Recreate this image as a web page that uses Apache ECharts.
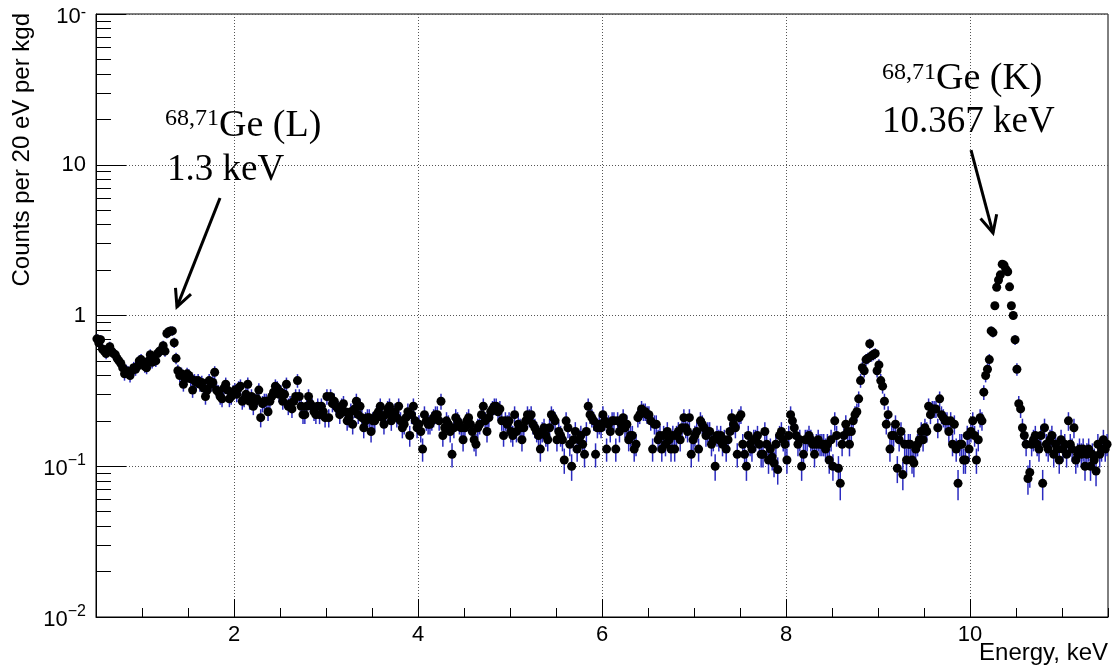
<!DOCTYPE html>
<html>
<head>
<meta charset="utf-8">
<title>Ge spectrum</title>
<script src="https://cdn.jsdelivr.net/npm/echarts@6/dist/echarts.min.js"></script>
<style>
  html, body { margin: 0; padding: 0; background: #fff; }
  #chart { width: 1112px; height: 671px; }
</style>
</head>
<body>
<div id="chart"></div>
<script>
// Histogram binning: 20 eV bins starting at 0.5 keV
const BIN_START_KEV = 0.5;
const BIN_WIDTH_KEV = 0.02;

// Counts per 20 eV per kgd, 0.50 - 3.00 keV
const countsLow = [
  0.70, 0.66, 0.69, 0.60, 0.58, 0.56, 0.60, 0.62, 0.58, 0.56,
  0.55, 0.52, 0.50, 0.48, 0.45, 0.41, 0.43, 0.42, 0.40, 0.43,
  0.45, 0.44, 0.46, 0.50, 0.51, 0.48, 0.46, 0.45, 0.50, 0.55,
  0.49, 0.51, 0.50, 0.56, 0.58, 0.59, 0.63, 0.58, 0.76, 0.78,
  0.79, 0.79, 0.66, 0.52, 0.43, 0.40, 0.41, 0.35, 0.38, 0.41,
  0.40, 0.38, 0.32, 0.37, 0.36, 0.37, 0.35, 0.36, 0.33, 0.29,
  0.32, 0.37, 0.35, 0.36, 0.42, 0.32, 0.31, 0.29, 0.28, 0.33,
  0.35, 0.32, 0.28, 0.29, 0.31, 0.32, 0.30, 0.33, 0.34, 0.27,
  0.28, 0.30, 0.35, 0.27, 0.29, 0.25, 0.27, 0.28, 0.32, 0.21,
  0.26, 0.27, 0.27, 0.23, 0.27, 0.29, 0.31, 0.34, 0.33, 0.30,
  0.31, 0.27, 0.30, 0.35, 0.25, 0.26, 0.24, 0.27, 0.29, 0.37,
  0.29, 0.25, 0.22, 0.22, 0.25, 0.29, 0.26, 0.25, 0.23, 0.22,
  0.25, 0.22, 0.25, 0.23, 0.21
];

// 3.00 - 6.00 keV
const countsMid = [
  0.29, 0.21, 0.29, 0.26, 0.27,
  0.25, 0.24, 0.22, 0.25, 0.26, 0.23, 0.20, 0.21, 0.23, 0.19,
  0.24, 0.27, 0.22, 0.25, 0.21, 0.18, 0.20, 0.21, 0.21, 0.17,
  0.20, 0.20, 0.22, 0.23, 0.25, 0.21, 0.19, 0.22, 0.24, 0.25,
  0.20, 0.22, 0.23, 0.21, 0.25, 0.20, 0.18, 0.19, 0.21, 0.23,
  0.16, 0.22, 0.25, 0.20, 0.18, 0.19, 0.17, 0.13, 0.22, 0.20,
  0.19, 0.19, 0.20, 0.21, 0.22, 0.22, 0.20, 0.27, 0.16, 0.18,
  0.20, 0.19, 0.17, 0.12, 0.18, 0.21, 0.20, 0.19, 0.18, 0.15,
  0.18, 0.20, 0.21, 0.19, 0.17, 0.15, 0.14, 0.18, 0.19, 0.22,
  0.25, 0.20, 0.17, 0.21, 0.23, 0.24, 0.25, 0.25, 0.23, 0.24,
  0.20, 0.16, 0.20, 0.19, 0.20, 0.17, 0.16, 0.22, 0.17, 0.19,
  0.18, 0.15, 0.18, 0.20, 0.22, 0.21, 0.22, 0.19, 0.18, 0.17,
  0.16, 0.13, 0.17, 0.18, 0.16, 0.15, 0.18, 0.22, 0.21, 0.20,
  0.15, 0.17, 0.16, 0.15, 0.11, 0.20, 0.18, 0.14, 0.10, 0.15,
  0.17, 0.13, 0.15, 0.16, 0.14, 0.12, 0.17, 0.25, 0.22, 0.21,
  0.20, 0.12, 0.18, 0.19
];

// 6.00 - 8.50 keV
const countsHigh = [
  0.18, 0.22, 0.20, 0.13, 0.19, 0.17,
  0.20, 0.20, 0.13, 0.20, 0.17, 0.19, 0.21, 0.18, 0.19, 0.15,
  0.16, 0.16, 0.13, 0.14, 0.21, 0.22, 0.24, 0.23, 0.23, 0.22,
  0.22, 0.20, 0.13, 0.19, 0.19, 0.15, 0.16, 0.13, 0.16, 0.14,
  0.17, 0.15, 0.13, 0.16, 0.13, 0.16, 0.17, 0.15, 0.18, 0.21,
  0.18, 0.17, 0.21, 0.12, 0.15, 0.16, 0.17, 0.13, 0.20, 0.19,
  0.18, 0.16, 0.17, 0.17, 0.14, 0.15, 0.10, 0.16, 0.15, 0.16,
  0.14, 0.15, 0.13, 0.15, 0.17, 0.21, 0.19, 0.18, 0.12, 0.21,
  0.22, 0.14, 0.12, 0.10, 0.16, 0.14, 0.13, 0.15, 0.15, 0.16,
  0.14, 0.12, 0.12, 0.17, 0.14, 0.11, 0.13, 0.115, 0.105, 0.14,
  0.095, 0.16, 0.17, 0.15, 0.14, 0.11, 0.16, 0.22, 0.20, 0.18,
  0.16, 0.14, 0.15, 0.10, 0.12, 0.15, 0.15, 0.16, 0.15, 0.14,
  0.12, 0.14, 0.15, 0.14, 0.14, 0.14, 0.13, 0.14, 0.11, 0.15
];

// 8.50 - 11.50 keV (Zn/Ga region and the Ge K line)
const countsPeak = [
  0.10, 0.20, 0.16, 0.097, 0.077, 0.14, 0.16, 0.19, 0.17, 0.14,
  0.17, 0.20, 0.22, 0.23, 0.28, 0.37, 0.45, 0.43, 0.51, 0.52,
  0.65, 0.54, 0.55, 0.56, 0.43, 0.47, 0.37, 0.34, 0.27, 0.19,
  0.22, 0.13, 0.16, 0.16, 0.19, 0.097, 0.15, 0.17, 0.088, 0.14,
  0.11, 0.14, 0.14, 0.11, 0.105, 0.13, 0.14, 0.15, 0.17, 0.15,
  0.18, 0.17, 0.25, 0.22, 0.24, 0.24, 0.24, 0.18, 0.28, 0.22,
  0.21, 0.20, 0.20, 0.17, 0.20, 0.14, 0.19, 0.13, 0.077, 0.14,
  0.14, 0.11, 0.11, 0.16, 0.13, 0.17, 0.20, 0.16, 0.11, 0.15,
  0.21, 0.20, 0.31, 0.40, 0.44, 0.51, 0.79, 0.77, 1.16, 1.54,
  1.72, 1.86, 2.19, 2.16, 2.03, 1.95, 1.55, 1.16, 1.00, 0.69,
  0.44, 0.26, 0.24, 0.18, 0.16, 0.14, 0.083, 0.091, 0.14, 0.15,
  0.16, 0.14, 0.13, 0.16, 0.077, 0.18, 0.14, 0.13, 0.15, 0.16,
  0.12, 0.14, 0.13, 0.11, 0.15, 0.13, 0.14, 0.12, 0.20, 0.14,
  0.13, 0.18, 0.11, 0.12, 0.13, 0.12, 0.13, 0.10, 0.12, 0.13,
  0.10, 0.12, 0.11, 0.093, 0.14, 0.12, 0.13, 0.15, 0.13, 0.14
];

// Rate represented by a single event (sets the Poisson error bars)
const RATE_PER_EVENT = 0.004;

// Axis ticks and labels
const xRange = [0.5, 11.5];
const xMinorStep = 0.5;
const xMajorTicks = [2, 4, 6, 8, 10];
const yRange = [0.01, 100];
const yDecades = [0.01, 0.1, 1, 10, 100];
const yMinorMantissas = [2, 3, 4, 5, 6, 7, 8, 9];

const xTitle = 'Energy, keV';
const yTitle = 'Counts per 20 eV per kgd';

// Peak annotations (positions in keV / counts)
const annotations = [
  { sup: '68,71', name: 'Ge (L)', energy: '1.3 keV',
    nameAt: [1.25, 24.3], energyAt: [1.272, 12.2],
    arrowFrom: [1.848, 6.02], arrowTo: [1.38, 1.14] },
  { sup: '68,71', name: 'Ge (K)', energy: '10.367 keV',
    nameAt: [9.043, 49.2], energyAt: [9.043, 25.4],
    arrowFrom: [10.011, 12.5], arrowTo: [10.25, 3.53] }
];

const counts = [].concat(countsLow, countsMid, countsHigh, countsPeak);
const energies = counts.map((_, i) => +(BIN_START_KEV + BIN_WIDTH_KEV * (i + 0.5)).toFixed(3));
const sigma = counts.map(v => Math.sqrt(v * RATE_PER_EVENT));

const yMinorTicks = [];
[0.01, 0.1, 1, 10].forEach(d => yMinorMantissas.forEach(m => yMinorTicks.push(+(d * m).toPrecision(3))));

const SANS = '"Liberation Sans", Arial, Helvetica, sans-serif';
const SERIF = '"Liberation Serif", "Times New Roman", serif';

function decadeLabel(v) {
  const e = Math.round(Math.log10(v));
  if (e === 0) return '{p|1}';
  if (e === 1) return '{p|10}';
  if (e === 2) return '{b|10}{d|-}';
  return '{b|10}{s|' + (e < 0 ? '\u2212' : '') + Math.abs(e) + '}';
}

const chart = echarts.init(document.getElementById('chart'), null, { renderer: 'canvas' });

chart.setOption({
  animation: false,
  backgroundColor: '#fff',
  grid: {
    left: 96, right: 4, top: 14, bottom: 54,
    show: true, borderColor: '#000', borderWidth: 1,
    containLabel: false, outerBoundsMode: 'none'
  },
  xAxis: [
    {
      type: 'value', min: xRange[0], max: xRange[1], interval: xMinorStep,
      position: 'bottom',
      axisLine: { show: true, onZero: false, lineStyle: { color: '#000', width: 1 } },
      axisTick: { show: true, inside: true, length: 9, lineStyle: { color: '#000', width: 1 } },
      axisLabel: { show: false },
      splitLine: { show: false }
    },
    {
      type: 'value', min: xRange[0], max: xRange[1],
      position: 'bottom',
      axisLine: { show: false, onZero: false },
      axisTick: { show: true, inside: true, length: 18, customValues: xMajorTicks,
                  lineStyle: { color: '#000', width: 1 } },
      axisLabel: { show: true, customValues: xMajorTicks, margin: 7,
                   color: '#000', fontSize: 22, fontFamily: SANS },
      splitLine: { show: true, lineStyle: { color: '#555', width: 1, type: [1, 2] } }
    }
  ],
  yAxis: [
    {
      type: 'log', logBase: 10, min: yRange[0], max: yRange[1],
      position: 'left',
      axisLine: { show: true, onZero: false, lineStyle: { color: '#000', width: 1 } },
      axisTick: { show: true, inside: true, length: 30, customValues: yDecades,
                  lineStyle: { color: '#000', width: 1 } },
      axisLabel: {
        show: true, customValues: yDecades, margin: 10,
        formatter: decadeLabel,
        rich: {
          p: { fontSize: 22, fontFamily: SANS, color: '#000', lineHeight: 22 },
          b: { fontSize: 22, fontFamily: SANS, color: '#000', lineHeight: 27, verticalAlign: 'bottom' },
          s: { fontSize: 16, fontFamily: SANS, color: '#000', lineHeight: 16, verticalAlign: 'top' },
          d: { fontSize: 16, fontFamily: SANS, color: '#000', lineHeight: 16, verticalAlign: 'top',
               padding: [4, 0, 0, 0] }
        }
      },
      splitLine: { show: true, lineStyle: { color: '#555', width: 1, type: [1, 2] } }
    },
    {
      type: 'log', logBase: 10, min: yRange[0], max: yRange[1],
      position: 'left',
      axisLine: { show: false, onZero: false },
      axisTick: { show: true, inside: true, length: 15, customValues: yMinorTicks,
                  lineStyle: { color: '#000', width: 1 } },
      axisLabel: { show: false },
      splitLine: { show: false }
    }
  ],
  series: [
    {
      name: 'errors',
      type: 'custom',
      xAxisIndex: 0, yAxisIndex: 0,
      clip: true,
      z: 2,
      encode: { x: 0, y: [1, 2] },
      data: energies.map((e, i) => [e, counts[i] - sigma[i], counts[i] + sigma[i]]),
      renderItem: function (params, api) {
        const lo = api.coord([api.value(0), api.value(1)]);
        const hi = api.coord([api.value(0), api.value(2)]);
        return {
          type: 'line',
          shape: { x1: lo[0], y1: lo[1], x2: hi[0], y2: hi[1] },
          style: { stroke: '#2b2bc0', lineWidth: 1.5 }
        };
      }
    },
    {
      name: 'counts',
      type: 'scatter',
      xAxisIndex: 0, yAxisIndex: 0,
      z: 3,
      symbol: 'circle',
      symbolSize: 9,
      itemStyle: { color: '#000', opacity: 1 },
      emphasis: { disabled: true },
      data: energies.map((e, i) => [e, counts[i]])
    }
  ]
});

// Axis titles and peak annotations, placed in data coordinates
function toPx(p) {
  return chart.convertToPixel({ xAxisIndex: 0, yAxisIndex: 0 }, p);
}

function arrowElements(from, to) {
  const a = toPx(from), b = toPx(to);
  const dx = b[0] - a[0], dy = b[1] - a[1];
  const len = Math.hypot(dx, dy);
  const ux = dx / len, uy = dy / len;
  const headLen = 19, headAng = 26 * Math.PI / 180;
  const wing = s => {
    const c = Math.cos(s * headAng), sn = Math.sin(s * headAng);
    const rx = ux * c - uy * sn, ry = ux * sn + uy * c;
    return [b[0] - headLen * rx, b[1] - headLen * ry];
  };
  const style = { stroke: '#000', lineWidth: 3, fill: null, lineCap: 'butt', lineJoin: 'miter' };
  return [
    { type: 'line', shape: { x1: a[0], y1: a[1], x2: b[0], y2: b[1] }, style: style, z: 10 },
    { type: 'polyline', shape: { points: [wing(1), b, wing(-1)] }, style: style, z: 10 }
  ];
}

const graphics = [];
annotations.forEach(a => {
  const n = toPx(a.nameAt), e = toPx(a.energyAt);
  graphics.push({
    type: 'text', x: n[0], y: n[1], z: 10,
    style: {
      text: '{s|' + a.sup + '}{g|' + a.name + '}',
      align: 'left', verticalAlign: 'top',
      rich: {
        s: { fontSize: 24, fontFamily: SERIF, fill: '#000', verticalAlign: 'top' },
        g: { fontSize: 38, fontFamily: SERIF, fill: '#000', verticalAlign: 'top' }
      }
    }
  });
  graphics.push({
    type: 'text', x: e[0], y: e[1], z: 10,
    style: { text: a.energy, fontSize: 37, fontFamily: SERIF, fill: '#000',
             align: 'left', verticalAlign: 'top' }
  });
  arrowElements(a.arrowFrom, a.arrowTo).forEach(g => graphics.push(g));
});

graphics.push({
  type: 'text', x: 1108, y: 653, z: 10,
  style: { text: xTitle, fontSize: 24, fontFamily: SANS, fill: '#000',
           align: 'right', verticalAlign: 'middle' }
});
graphics.push({
  type: 'text', x: 22, y: 13, rotation: Math.PI / 2, z: 10,
  style: { text: yTitle, fontSize: 24, fontFamily: SANS, fill: '#000',
           align: 'right', verticalAlign: 'middle' }
});

chart.setOption({ graphic: graphics });
</script>
</body>
</html>
